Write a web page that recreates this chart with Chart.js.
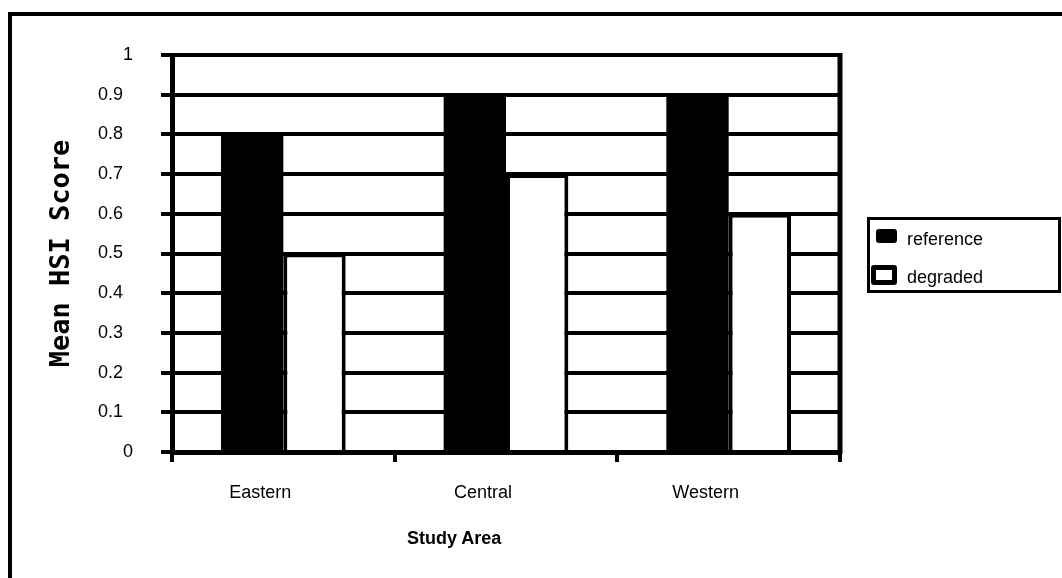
<!DOCTYPE html>
<html>
<head>
<meta charset="utf-8">
<script src="https://cdn.jsdelivr.net/npm/chart.js@4/dist/chart.umd.min.js"></script>
<style>
  body { margin: 0; background: #fff; }
  #wrap { position: relative; width: 1062px; height: 578px; font-family: "Liberation Sans", Arial, sans-serif; }
  #hsiChart { position: absolute; left: 0; top: 0; }
  .legend { position: absolute; left: 867px; top: 217px; width: 194px; height: 76px; box-sizing: border-box; border: 3px solid #000; }
  .sw { position: absolute; box-sizing: border-box; border-radius: 3px; }
  .sw.ref { left: 6px; top: 9px; width: 21px; height: 14px; background: #000; }
  .sw.deg { left: 1px; top: 45px; width: 26px; height: 20px; background: #fff; border: 5px solid #000; }
  .lbl { position: absolute; left: 37px; font-size: 18px; line-height: 22px; color: #000; }
  .xtitle { position: absolute; left: 407px; top: 527px; font-size: 18px; line-height: 22px; font-weight: bold; color: #000; }
</style>
</head>
<body>
<div id="wrap">
  <canvas id="hsiChart" width="1062" height="578"></canvas>
  <div class="legend">
    <div class="sw ref"></div><div class="lbl" style="top:8px">reference</div>
    <div class="sw deg"></div><div class="lbl" style="top:46px">degraded</div>
  </div>
  <div class="xtitle">Study Area</div>
</div>
<script>
const categories = ["Eastern", "Central", "Western"];
const referenceScores = [0.8, 0.9, 0.9];
const degradedScores = [0.5, 0.7, 0.6];
const yMin = 0, yMax = 1, yStep = 0.1;

// outer frame (left + top only) and the plot box right edge
const framePlugin = {
  id: "frame",
  beforeDraw(chart) {
    const c = chart.ctx;
    c.save();
    c.fillStyle = "#fff";
    c.fillRect(0, 0, chart.width, chart.height);
    c.fillStyle = "#000";
    c.fillRect(8, 12, 4, chart.height - 12);
    c.fillRect(8, 12, chart.width - 8, 4);
    c.restore();
  },
  afterDatasetsDraw(chart) {
    const a = chart.chartArea;
    const c = chart.ctx;
    c.save();
    c.fillStyle = "#000";
    c.fillRect(a.right - 2.5, a.top - 2, 5, a.bottom - a.top + 4);
    c.restore();
  }
};

function tickLabel(v) {
  const r = Math.round(v * 10) / 10;
  if (r === 0 || r === 1) return String(r);
  return r.toFixed(1) + "  ";
}

new Chart(document.getElementById("hsiChart"), {
  type: "bar",
  data: {
    labels: categories,
    datasets: [
      { label: "reference", data: referenceScores, backgroundColor: "#000", borderWidth: 0 },
      { label: "degraded", data: degradedScores, backgroundColor: "#fff", borderColor: "#000", borderWidth: 4 }
    ]
  },
  options: {
    responsive: false,
    devicePixelRatio: 1,
    animation: false,
    layout: { padding: { top: 55, right: 222, left: 12, bottom: 0 } },
    datasets: { bar: { categoryPercentage: 0.56, barPercentage: 1.0 } },
    plugins: { legend: { display: false }, tooltip: { enabled: false } },
    scales: {
      x: {
        afterFit(s) { s.height = 126; },
        grid: { display: true, drawOnChartArea: false, drawTicks: true, tickLength: 10, lineWidth: 4, color: "#000", offset: true },
        border: { display: true, color: "#000", width: 5 },
        ticks: { color: "#000", font: { family: "Liberation Sans", size: 18 }, padding: 20, labelOffset: -23, maxRotation: 0 }
      },
      y: {
        min: yMin,
        max: yMax,
        afterFit(s) { s.width = 160; },
        grid: { color: "#000", lineWidth: 4, tickLength: 11, drawTicks: true },
        border: { display: true, color: "#000", width: 5 },
        ticks: { stepSize: yStep, color: "#000", font: { family: "Liberation Sans", size: 18 }, padding: 28, callback: tickLabel },
        title: {
          display: true,
          text: "Mean HSI Score",
          color: "#000",
          font: { family: "DejaVu Sans Mono", size: 27, weight: "bold" },
          padding: { top: 34, bottom: 0 }
        }
      }
    }
  },
  plugins: [framePlugin]
});
</script>
</body>
</html>
